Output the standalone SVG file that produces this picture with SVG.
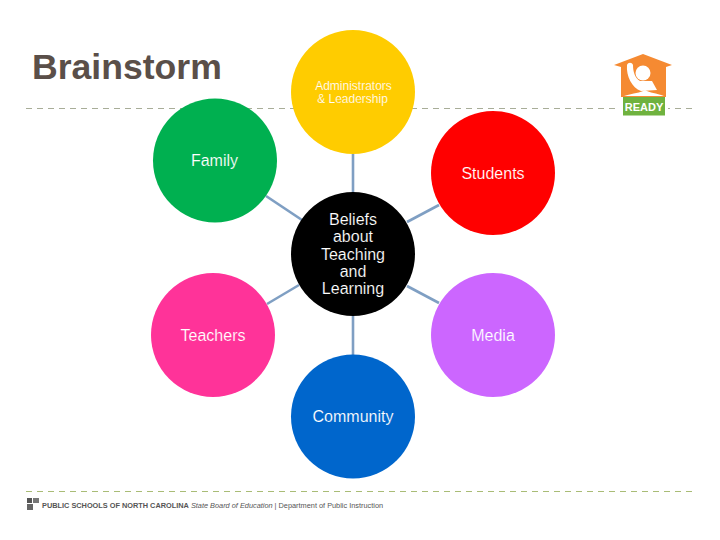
<svg xmlns="http://www.w3.org/2000/svg" width="720" height="540" viewBox="0 0 720 540">
<style>
.t{font-family:"Liberation Sans",Arial,sans-serif;fill:#fff;text-anchor:middle;font-size:16px;stroke-width:.15px}
.c{stroke:#7f9fc3;stroke-width:2.6;fill:none}
</style>
<rect width="720" height="540" fill="#fff"/>
<path d="M26 108.500H692" stroke="#a8ad98" stroke-width="1" stroke-dasharray="6 5" fill="none"/>
<path d="M26 491.500H692" stroke="#a9bc76" stroke-width="1" stroke-dasharray="6 5" fill="none"/>
<text x="32" y="79" font-family="'Liberation Sans',Arial,sans-serif" font-weight="700" font-size="35.600" fill="#5a4f49">Brainstorm</text>
<g id="logo">
<rect x="616" y="100" width="52" height="16" fill="#fff"/>
<path d="M614 65L643 54L672 65L666 67V97H621V67Z" fill="#f58a32"/>
<rect x="623" y="97" width="42" height="18.500" fill="#6fb23f"/>
<circle cx="643" cy="73" r="7.500" fill="#fff"/>
<path d="M627 65C628 62 632 62 633 65C633 72 635 78 640 81H652L657 90L641 91C632 88 626 76 627 65Z" fill="#fff"/>
<path d="M624 96C634 93 640 93 645 90C650 93 656 93 664 96Z" fill="#fff"/>
<text x="644" y="111" font-family="'Liberation Sans',Arial,sans-serif" font-weight="700" font-size="11" fill="#fff" text-anchor="middle">READY</text>
</g>
<g id="connectors">
<path class="c" d="M353 154V193"/>
<path class="c" d="M266 196L302 220"/>
<path class="c" d="M439 205L407 222"/>
<path class="c" d="M267 304L299 285"/>
<path class="c" d="M439 303L407 286"/>
<path class="c" d="M353 316V355"/>
</g>
<g id="admin"><circle cx="353" cy="92" r="62" fill="#ffcc00"/><g stroke="#ffcc00"><text class="t" style="font-size:12px" x="353.500" y="90">Administrators</text><text class="t" style="font-size:12px" x="352.500" y="103">&amp; Leadership</text></g></g>
<g id="family"><circle cx="215" cy="160.500" r="62" fill="#00b050"/><text class="t" stroke="#00b050" x="214.500" y="166">Family</text></g>
<g id="students"><circle cx="493" cy="173" r="62" fill="#ff0000"/><text class="t" stroke="#ff0000" x="493" y="179">Students</text></g>
<g id="center"><circle cx="353" cy="254" r="62" fill="#000"/>
<g stroke="#000"><text class="t" x="353" y="225">Beliefs</text><text class="t" x="353" y="242">about</text><text class="t" x="353" y="260">Teaching</text><text class="t" x="353" y="277">and</text><text class="t" x="353" y="294">Learning</text></g></g>
<g id="teachers"><circle cx="213" cy="335" r="62" fill="#ff3399"/><text class="t" stroke="#ff3399" x="213" y="341">Teachers</text></g>
<g id="media"><circle cx="493" cy="335" r="62" fill="#cc66ff"/><text class="t" stroke="#cc66ff" x="493" y="341">Media</text></g>
<g id="community"><circle cx="353" cy="416.500" r="62" fill="#0066cc"/><text class="t" stroke="#0066cc" x="353" y="422">Community</text></g>
<g id="footer">
<rect x="27" y="498" width="5" height="5" fill="#555"/><rect x="33" y="498" width="6" height="5" fill="#777"/><rect x="27" y="504" width="6" height="6" fill="#666"/>
<text x="42" y="508" font-family="'Liberation Sans',Arial,sans-serif" font-size="7.350" fill="#555"><tspan font-weight="700">PUBLIC SCHOOLS OF NORTH CAROLINA</tspan> <tspan font-style="italic">State Board of Education</tspan> | Department of Public Instruction</text>
</g>
</svg>
